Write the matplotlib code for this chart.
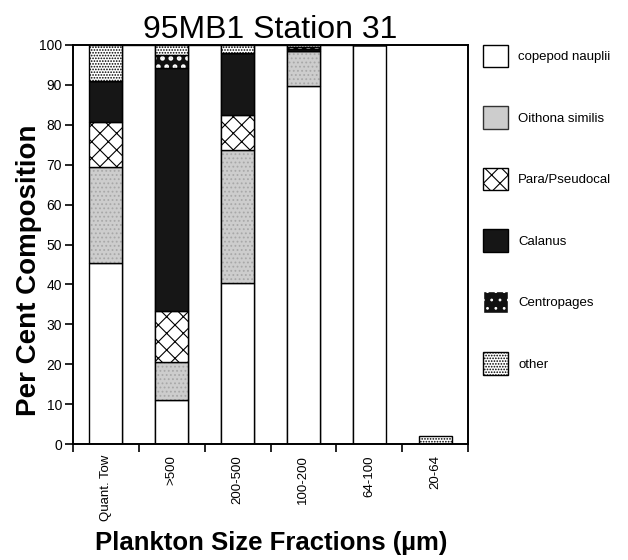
import matplotlib
matplotlib.use("Agg")
import matplotlib.pyplot as plt
from matplotlib.patches import Patch
import numpy as np

plt.rcParams["font.family"] = ["Liberation Sans", "DejaVu Sans"]
plt.rcParams["hatch.linewidth"] = 0.8

fractions = ["Quant. Tow", ">500", "200-500", "100-200", "64-100", "20-64"]
species = ["copepod nauplii", "Oithona similis", "Para/Pseudocal",
           "Calanus", "Centropages", "other"]

nauplii = [45.3, 11.1, 40.3, 89.7, 100.0, 0.0]
oithona = [24.1, 9.4, 33.3, 8.9, 0.0, 0.0]
para = [11.2, 12.9, 8.9, 0.0, 0.0, 0.0]
calanus = [10.4, 60.9, 15.6, 0.4, 0.0, 0.0]
centropages = [0.0, 3.2, 0.0, 0.5, 0.0, 0.0]
other = [9.0, 2.5, 1.9, 0.5, 0.0, 2.1]

# empty outlined boxes that sit between the first bars in the original
spacer_after = [0, 1, 2, 3]
spacer_height = 100

series = [nauplii, oithona, para, calanus, centropages, other]
# face colour, hatch, hatch colour, hatch width
styles = [
    ("white", None, "black", 0.8),
    ("#cdcdcd", "....", "#a8a8a8", 0.8),
    ("white", "xx", "black", 0.8),
    ("#161616", None, "black", 0.8),
    ("#111111", "..", "white", 2.2),
    ("white", "......", "black", 0.8),
]

fig = plt.figure(figsize=(6.28, 5.6), dpi=100)
ax = fig.add_axes([73 / 628, 1 - 444 / 560, 395 / 628, 399 / 560])

x = np.arange(len(fractions))
w = 0.5

sx = np.array(spacer_after) + 0.5
ax.bar(sx, [spacer_height] * len(sx), w, color="white", edgecolor="black", linewidth=1.0)

bottom = np.zeros(len(fractions))
for vals, (face, hatch, hcol, hlw) in zip(series, styles):
    vals = np.array(vals)
    with plt.rc_context({"hatch.linewidth": hlw}):
        ax.bar(x, vals, w, bottom=bottom, color=face, hatch=hatch, edgecolor=hcol, linewidth=0)
    ax.bar(x, vals, w, bottom=bottom, fill=False, edgecolor="black", linewidth=1.0)
    bottom += vals

ax.set_xlim(-0.5, len(fractions) - 0.5)
ax.set_ylim(0, 100)
ax.set_yticks(np.arange(0, 101, 10))
ax.set_xticks(np.arange(len(fractions) + 1) - 0.5)
ax.set_xticklabels([])
ax.set_xticks(x, minor=True)
ax.set_xticklabels(fractions, minor=True, rotation=90, fontsize=9.5, va="top", ha="center")
ax.tick_params(axis="x", which="minor", length=0, pad=8)
ax.tick_params(axis="both", which="major", length=6, width=1.2, labelsize=10, direction="out")
ax.tick_params(axis="y", pad=2)
for s in ax.spines.values():
    s.set_linewidth(1.4)

ax.set_title("95MB1 Station 31", fontsize=23, pad=5)
fig.text(29 / 628, 1 - 270 / 560, "Per Cent Composition", fontsize=20, fontweight="bold",
         rotation=90, ha="center", va="center")
fig.text(271 / 628, 1 - 543 / 560, "Plankton Size Fractions (\u00b5m)", fontsize=18.5,
         fontweight="bold", ha="center", va="center")

handles = []
for face, hatch, hcol, hlw in styles:
    with plt.rc_context({"hatch.linewidth": hlw}):
        edge = hcol if hatch else "black"
        if face == "#cdcdcd":
            hatch, edge = None, "#333333"
        handles.append(Patch(facecolor=face, hatch=hatch, edgecolor=edge, linewidth=1.0))
fig.legend(handles, species, loc="upper left", bbox_to_anchor=(483 / 628, 1 - 45 / 560),
           frameon=False, fontsize=9.5, handlelength=1.9, handleheight=2.24,
           labelspacing=2.96, handletextpad=0.76, borderpad=0, borderaxespad=0)

fig.savefig("out.png", dpi=100)
